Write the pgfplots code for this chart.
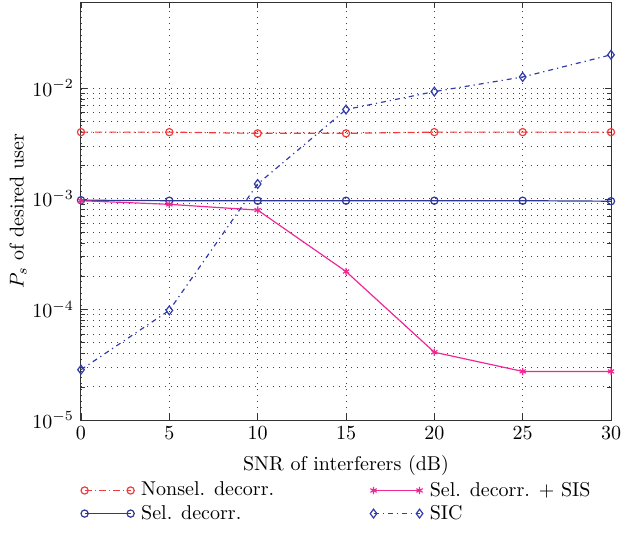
\documentclass[border=0pt]{standalone}
\usepackage{pgfplots}
\pgfplotsset{compat=1.18}
\usetikzlibrary{calc}

\definecolor{nonselred}{RGB}{240,60,60}
\definecolor{selblue}{RGB}{45,55,150}
\definecolor{sispink}{RGB}{240,40,150}
\definecolor{sicblue}{RGB}{50,60,170}

\begin{document}
\begin{tikzpicture}
\begin{axis}[
  name=ax,
  scale only axis,
  width=265pt, height=209pt,
  ymode=log,
  xmin=0, xmax=30, ymin=1e-5, ymax=0.06,
  xtick={0,5,...,30},
  ytick={1e-5,1e-4,1e-3,1e-2},
  minor x tick num=0,
  grid=both,
  major grid style={black!75, line width=0.4pt, dash pattern=on 0.5pt off 2.5pt},
  minor grid style={black!75, line width=0.4pt, dash pattern=on 0.5pt off 2.5pt},
  tick align=inside,
  major tick length=3pt, minor tick length=1.8pt,
  axis line style={black!80, line width=0.5pt},
  tick style={black!80},
  xlabel={SNR of interferers (dB)},
  ylabel={$P_s$ of desired user},
  xlabel style={yshift=-1pt},
  ylabel style={yshift=-4pt},
  legend columns=2,
  transpose legend,
  legend cell align=left,
  legend image code/.code={\draw[#1] plot coordinates {(0pt,0pt) (23pt,0pt)};},
  legend style={draw=none, fill=none, at={(axis description cs:-0.012,-0.128)}, anchor=north west,
    row sep=-1pt,
    /tikz/column 1/.style={column sep=1.5pt},
    /tikz/column 3/.style={column sep=1.5pt},
    /tikz/column 2/.style={column sep=46pt}},
]
\addplot[nonselred, line width=0.6pt, dash pattern=on 3.5pt off 1.5pt on 0.6pt off 1.5pt,
  mark=o, mark size=1.8pt, mark options={solid}]
  coordinates {(0,4.0e-3) (5,4.0e-3) (10,3.9e-3) (15,3.9e-3) (20,4.0e-3) (25,4.0e-3) (30,4.0e-3)};
\addlegendentry{Nonsel. decorr.}
\addplot[selblue, line width=0.6pt, mark=o, mark size=1.8pt]
  coordinates {(0,9.7e-4) (5,9.6e-4) (10,9.6e-4) (15,9.6e-4) (20,9.6e-4) (25,9.6e-4) (30,9.5e-4)};
\addlegendentry{Sel. decorr.}
\addplot[sispink, line width=0.6pt, mark=asterisk, mark size=1.8pt]
  coordinates {(0,9.6e-4) (5,8.9e-4) (10,7.9e-4) (15,2.2e-4) (20,4.1e-5) (25,2.75e-5) (30,2.75e-5)};
\addlegendentry{Sel. decorr. + SIS}
\addplot[sicblue, line width=0.6pt, dash pattern=on 2.5pt off 2pt on 0.6pt off 2pt,
  mark=diamond, mark size=2.2pt, mark options={solid}]
  coordinates {(0,2.85e-5) (5,9.8e-5) (10,1.36e-3) (15,6.4e-3) (20,9.3e-3) (25,1.26e-2) (30,2.0e-2)};
\addlegendentry{SIC}
\end{axis}
\pgfresetboundingbox
\path[use as bounding box] ($(ax.south west)+(-40.5pt,-67pt)$) rectangle ($(ax.north east)+(6.5pt,1pt)$);
\end{tikzpicture}
\end{document}
